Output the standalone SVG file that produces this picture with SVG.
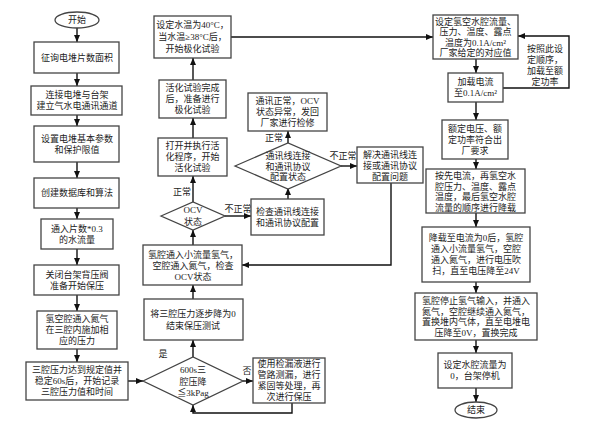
<svg xmlns="http://www.w3.org/2000/svg" width="600" height="424" viewBox="0 0 600 424">
<defs>
<marker id="ah" markerUnits="userSpaceOnUse" markerWidth="7" markerHeight="6" refX="7" refY="3" orient="auto">
<path d="M0,0 L7,3 L0,6 z" fill="#111"/>
</marker>
<style>
.b{fill:#fff;stroke:#444;stroke-width:1.3}
.t{font-family:"Liberation Serif","Noto Sans CJK SC",serif;font-size:9px;fill:#222;text-anchor:middle;dominant-baseline:central}
.c{fill:none;stroke:#111;stroke-width:1.4;marker-end:url(#ah)}
.l{fill:none;stroke:#111;stroke-width:1.4}
</style>
</defs>
<rect width="600" height="424" fill="#fff"/>
<g id="connectors">
<path class="c" d="M77,28 V42"/>
<path class="c" d="M77,73 V86"/>
<path class="c" d="M77,115 V126"/>
<path class="c" d="M77,162 V178"/>
<path class="c" d="M77,208 V219"/>
<path class="c" d="M77,249 V265"/>
<path class="c" d="M77,295 V311"/>
<path class="c" d="M77,349 V362"/>
<path class="c" d="M128,381 H143"/>
<path class="c" d="M243,381 H253"/>
<path class="c" d="M292,403 V413 H193 V405"/>
<path class="c" d="M193,357 V340"/>
<path class="c" d="M193,299 V285"/>
<path class="c" d="M193,245 V230"/>
<path class="c" d="M193,202 V176"/>
<path class="c" d="M193,138 V118"/>
<path class="c" d="M193,80 V58"/>
<path class="c" d="M231,37 H433"/>
<path class="c" d="M225,216 H251"/>
<path class="c" d="M288,199 V188"/>
<path class="c" d="M288,143 V131"/>
<path class="c" d="M341,166 H357"/>
<path class="c" d="M391,183 V265 H242"/>
<path class="c" d="M476,59 V73"/>
<path class="c" d="M503,88 H569 V36 H518"/>
<path class="c" d="M476,102 V120"/>
<path class="c" d="M476,159 V169"/>
<path class="c" d="M476,213 V227"/>
<path class="c" d="M476,282 V293"/>
<path class="c" d="M476,340 V353"/>
<path class="c" d="M476,388 V402"/>
<text class="t" x="182" y="192">正常</text>
<text class="t" x="238" y="209">不正常</text>
<text class="t" x="274" y="138">正常</text>
<text class="t" x="343" y="156">不正常</text>
<text class="t" x="163" y="354">是</text>
<text class="t" x="247" y="371">否</text>
<text class="t" x="545" y="49">按照此设</text>
<text class="t" x="545" y="60">定顺序，</text>
<text class="t" x="545" y="71">加载至额</text>
<text class="t" x="545" y="82">定功率</text>
</g>
<g id="start"><ellipse class="b" cx="77" cy="20" rx="22" ry="8"/><text class="t" x="77" y="20">开始</text></g>
<g id="n1"><rect class="b" x="34" y="42" width="85" height="31"/><text class="t" x="77" y="57.5">征询电堆片数面积</text></g>
<g id="n2"><rect class="b" x="31" y="86" width="91" height="29"/><text class="t" x="77" y="95">连接电堆与台架</text><text class="t" x="77" y="106">建立气水电通讯通道</text></g>
<g id="n3"><rect class="b" x="34" y="126" width="85" height="36"/><text class="t" x="77" y="138.5">设置电堆基本参数</text><text class="t" x="77" y="149.5">和保护限值</text></g>
<g id="n4"><rect class="b" x="34" y="178" width="85" height="30"/><text class="t" x="77" y="193">创建数据库和算法</text></g>
<g id="n5"><rect class="b" x="41" y="219" width="72" height="30"/><text class="t" x="77" y="228.5">通入片数*0.3</text><text class="t" x="77" y="239.5">的水流量</text></g>
<g id="n6"><rect class="b" x="34" y="265" width="85" height="30"/><text class="t" x="77" y="274.5">关闭台架背压阀</text><text class="t" x="77" y="285.5">准备开始保压</text></g>
<g id="n7"><rect class="b" x="37" y="311" width="80" height="38"/><text class="t" x="77" y="319">氢空腔通入氮气</text><text class="t" x="77" y="330">在三腔内施加相</text><text class="t" x="77" y="341">应的压力</text></g>
<g id="n8"><rect class="b" x="26" y="362" width="102" height="38"/><text class="t" x="77" y="370">三腔压力达到规定值并</text><text class="t" x="77" y="381">稳定60s后，开始记录</text><text class="t" x="77" y="392">三腔压力值和时间</text></g>
<g id="d600"><path class="b" d="M143,381 L193,357 L243,381 L193,405 z"/><text class="t" x="193" y="370">600s三</text><text class="t" x="193" y="381.5">腔压降</text><text class="t" x="193" y="393">≦3kPag</text></g>
<g id="nleak"><rect class="b" x="253" y="358" width="72" height="45"/><text class="t" x="289" y="364">使用检漏液进行</text><text class="t" x="289" y="375">管路测漏，进行</text><text class="t" x="289" y="386">紧固等处理，再</text><text class="t" x="289" y="397">次进行保压</text></g>
<g id="nend0"><rect class="b" x="144" y="299" width="99" height="41"/><text class="t" x="193" y="314">将三腔压力逐步降为0</text><text class="t" x="193" y="325.5">结束保压测试</text></g>
<g id="nocv"><rect class="b" x="143" y="245" width="99" height="40"/><text class="t" x="193" y="255">氢腔通入小流量氢气，</text><text class="t" x="193" y="266">空腔通入氮气，检查</text><text class="t" x="193" y="277">OCV状态</text></g>
<g id="docv"><path class="b" d="M161,216 L193,202 L225,216 L193,230 z"/><text class="t" x="193" y="210">OCV</text><text class="t" x="193" y="222">状态</text></g>
<g id="nact"><rect class="b" x="158" y="138" width="69" height="38"/><text class="t" x="192.5" y="146">打开并执行活</text><text class="t" x="192.5" y="157">化程序，开始</text><text class="t" x="192.5" y="168">活化试验</text></g>
<g id="nactdone"><rect class="b" x="159" y="80" width="67" height="38"/><text class="t" x="192.5" y="88">活化试验完成</text><text class="t" x="192.5" y="99">后，准备进行</text><text class="t" x="192.5" y="110">极化试验</text></g>
<g id="nwater"><rect class="b" x="154" y="16" width="77" height="42"/><text class="t" x="192.5" y="25">设定水温为40°C，</text><text class="t" x="192.5" y="37">当水温≥38°C后，</text><text class="t" x="192.5" y="49">开始极化试验</text></g>
<g id="ncheck"><rect class="b" x="251" y="199" width="73" height="36"/><text class="t" x="287.5" y="211.5">检查通讯线连接</text><text class="t" x="287.5" y="222.5">和通讯协议配置</text></g>
<g id="dcomm"><path class="b" d="M235,166 L288,143 L341,166 L288,189 z"/><text class="t" x="288" y="156">通讯线连接</text><text class="t" x="288" y="166.5">和通讯协议</text><text class="t" x="288" y="177">配置状态</text></g>
<g id="nrepair"><rect class="b" x="248" y="93" width="79" height="38"/><text class="t" x="287.5" y="101">通讯正常，OCV</text><text class="t" x="287.5" y="112">状态异常，发回</text><text class="t" x="287.5" y="123">厂家进行检修</text></g>
<g id="nfix"><rect class="b" x="357" y="147" width="66" height="36"/><text class="t" x="390" y="155">解决通讯线连</text><text class="t" x="390" y="166">接或通讯协议</text><text class="t" x="390" y="177">配置问题</text></g>
<g id="nset"><rect class="b" x="433" y="15" width="85" height="44"/><text class="t" x="475.5" y="21.5">设定氢空水腔流量、</text><text class="t" x="475.5" y="32">压力、温度、露点</text><text class="t" x="475.5" y="42.5">温度为0.1A/cm²</text><text class="t" x="475.5" y="53">厂家给定的对应值</text></g>
<g id="nload"><rect class="b" x="448" y="73" width="55" height="29"/><text class="t" x="475.5" y="82">加载电流</text><text class="t" x="475.5" y="93">至0.1A/cm²</text></g>
<g id="nrated"><rect class="b" x="442" y="120" width="66" height="39"/><text class="t" x="475" y="129">额定电压、额</text><text class="t" x="475" y="140">定功率符合出</text><text class="t" x="475" y="151">厂要求</text></g>
<g id="nunload"><rect class="b" x="426" y="169" width="99" height="44"/><text class="t" x="475.5" y="176">按先电流，再氢空水</text><text class="t" x="475.5" y="186.5">腔压力、温度、露点</text><text class="t" x="475.5" y="197">温度，最后氢空水腔</text><text class="t" x="475.5" y="207.5">流量的顺序进行降载</text></g>
<g id="npurge"><rect class="b" x="422" y="227" width="108" height="55"/><text class="t" x="476" y="238">降载至电流为0后，氢腔</text><text class="t" x="476" y="249">通入小流量氢气，空腔</text><text class="t" x="476" y="260">通入氮气，进行电压吹</text><text class="t" x="476" y="271">扫，直至电压降至24V</text></g>
<g id="nreplace"><rect class="b" x="415" y="293" width="122" height="47"/><text class="t" x="476" y="301">氢腔停止氢气输入，并通入</text><text class="t" x="476" y="311.5">氮气，空腔继续通入氮气，</text><text class="t" x="476" y="322">置换堆内气体，直至电堆电</text><text class="t" x="476" y="332.5">压降至0V，置换完成</text></g>
<g id="nstop"><rect class="b" x="438" y="353" width="74" height="35"/><text class="t" x="475" y="365">设定水腔流量为</text><text class="t" x="475" y="376">0，台架停机</text></g>
<g id="end"><ellipse class="b" cx="476" cy="410" rx="21" ry="8"/><text class="t" x="476" y="410">结束</text></g>
</svg>
